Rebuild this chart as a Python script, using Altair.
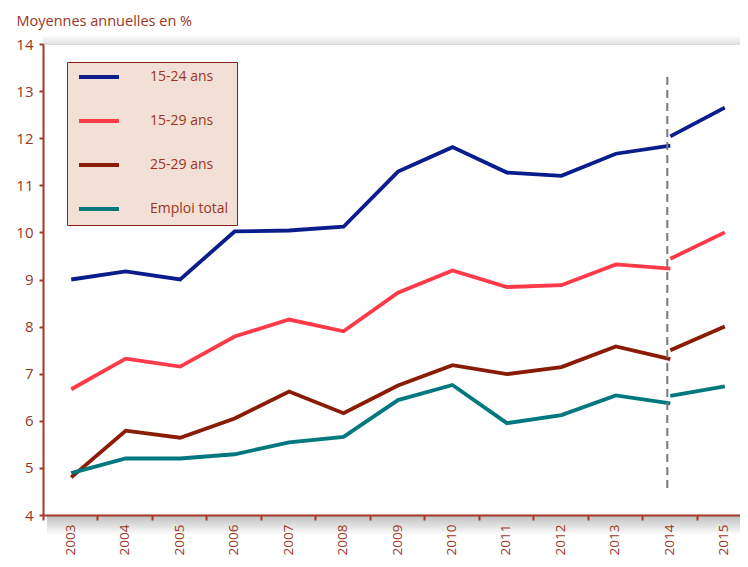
import altair as alt
import pandas as pd

years = [str(y) for y in range(2003, 2016)]
series_names = ["15-24 ans", "15-29 ans", "25-29 ans", "Emploi total"]
series_colors = ["#0a1d8c", "#ff3a48", "#8a1c05", "#00787e"]

# Ancienne série : 2003 à 2014
old_15_24 = [9.00, 9.17, 9.00, 10.02, 10.04, 10.12, 11.29, 11.81, 11.27, 11.20, 11.67, 11.84]
old_15_29 = [6.67, 7.32, 7.15, 7.79, 8.15, 7.90, 8.72, 9.19, 8.84, 8.88, 9.32, 9.23]
old_25_29 = [4.80, 5.79, 5.64, 6.05, 6.62, 6.16, 6.75, 7.18, 6.99, 7.14, 7.58, 7.31]
old_total = [4.89, 5.20, 5.20, 5.29, 5.54, 5.66, 6.44, 6.76, 5.95, 6.12, 6.54, 6.37]

# Nouvelle série : 2014 et 2015
new_years = ["2014", "2015"]
new_15_24 = [12.04, 12.65]
new_15_29 = [9.44, 10.00]
new_25_29 = [7.50, 8.00]
new_total = [6.53, 6.73]

# Rupture de série
break_year = "2014"
break_top = 13.3
break_bottom = 4.47

y_ticks = [4, 5, 6, 7, 8, 9, 10, 11, 12, 13, 14]

text_color = "#9b3622"
axis_color = "#a23a26"
bg_color = "#f2dfd6"
font = "Open Sans"

rows = []
for name, old, new in zip(
    series_names,
    [old_15_24, old_15_29, old_25_29, old_total],
    [new_15_24, new_15_29, new_25_29, new_total],
):
    for yr, v in zip(years[:12], old):
        rows.append({"annee": yr, "valeur": v, "serie": name, "segment": name + " ancienne"})
    for yr, v in zip(new_years, new):
        rows.append({"annee": yr, "valeur": v, "serie": name, "segment": name + " nouvelle"})
df = pd.DataFrame(rows)

brk = pd.DataFrame({"annee": [break_year], "haut": [break_top], "bas": [break_bottom]})

W, H = 708, 471

x_enc = alt.X(
    "annee:O",
    scale=alt.Scale(domain=years, paddingInner=0, paddingOuter=0),
    axis=alt.Axis(
        title=None,
        labelAngle=270,
        labelAlign="right",
        labelBaseline="middle",
        labelFontSize=13.5,
        labelFont=font,
        labelColor=text_color,
        labelPadding=4,
        domainColor=axis_color,
        domainWidth=2,
        tickColor=axis_color,
        tickWidth=2,
        tickSize=5,
        tickBand="extent",
        zindex=1,
    ),
)

y_enc = alt.Y(
    "valeur:Q",
    scale=alt.Scale(domain=[4, 14], nice=False, zero=False),
    axis=alt.Axis(
        values=y_ticks,
        title="Moyennes annuelles en %",
        titleAngle=0,
        titleAlign="left",
        titleBaseline="alphabetic",
        titleX=-27,
        titleY=-19,
        titleFont=font,
        titleFontSize=14.5,
        titleFontWeight="normal",
        titleColor=text_color,
        labelFont=font,
        labelFontSize=15,
        labelColor=text_color,
        labelPadding=6,
        domainColor=axis_color,
        domainWidth=2,
        tickColor=axis_color,
        tickWidth=2,
        tickSize=4,
        grid=False,
        zindex=1,
    ),
)

shadow_top = alt.Chart(brk).mark_rect(
    color=alt.Gradient(
        gradient="linear",
        stops=[alt.GradientStop(color="#ffffff", offset=0), alt.GradientStop(color="#e2e2e2", offset=1)],
        x1=0, x2=0, y1=0, y2=1,
    )
).encode(x=alt.value(0), x2=alt.value(W), y=alt.value(-9), y2=alt.value(0))

shadow_bottom = alt.Chart(brk).mark_rect(
    color=alt.Gradient(
        gradient="linear",
        stops=[alt.GradientStop(color="#bdbdbd", offset=0), alt.GradientStop(color="#ffffff", offset=1)],
        x1=0, x2=0, y1=0, y2=1,
    )
).encode(x=alt.value(4), x2=alt.value(W), y=alt.value(H), y2=alt.value(H + 20))

rule = alt.Chart(brk).mark_rule(
    color="#7a7a7a", strokeWidth=2, strokeDash=[8, 5], xOffset=-2
).encode(
    x=alt.X("annee:O", scale=alt.Scale(domain=years)),
    y=alt.Y("haut:Q"),
    y2="bas:Q",
)

lines = alt.Chart(df).mark_line(strokeWidth=3.8, strokeJoin="miter", strokeCap="butt", xOffset=1).encode(
    x=x_enc,
    y=y_enc,
    detail="segment:N",
    color=alt.Color(
        "serie:N",
        scale=alt.Scale(domain=series_names, range=series_colors),
        legend=alt.Legend(
            title=None,
            orient="none",
            legendX=24,
            legendY=18,
            symbolType="M-4,0H4",
            symbolSize=100,
            symbolStrokeWidth=4,
            symbolOffset=17,
            labelOffset=44,
            labelFont=font,
            labelFontSize=14,
            labelColor=text_color,
            rowPadding=28,
            padding=8,
            strokeColor="#8b2312",
            fillColor=bg_color,
        ),
    ),
)

chart = (
    alt.layer(shadow_top, shadow_bottom, lines, rule)
    .properties(
        width=W,
        height=H,
        autosize=alt.AutoSizeParams(type="none"),
        padding={"left": 35, "top": 36, "right": -11, "bottom": 43},
    )
    .configure_view(fill=bg_color, stroke=None)
    .configure(background="#ffffff")
)

chart.save("out.html", embed_options={"renderer": "svg", "actions": False})
